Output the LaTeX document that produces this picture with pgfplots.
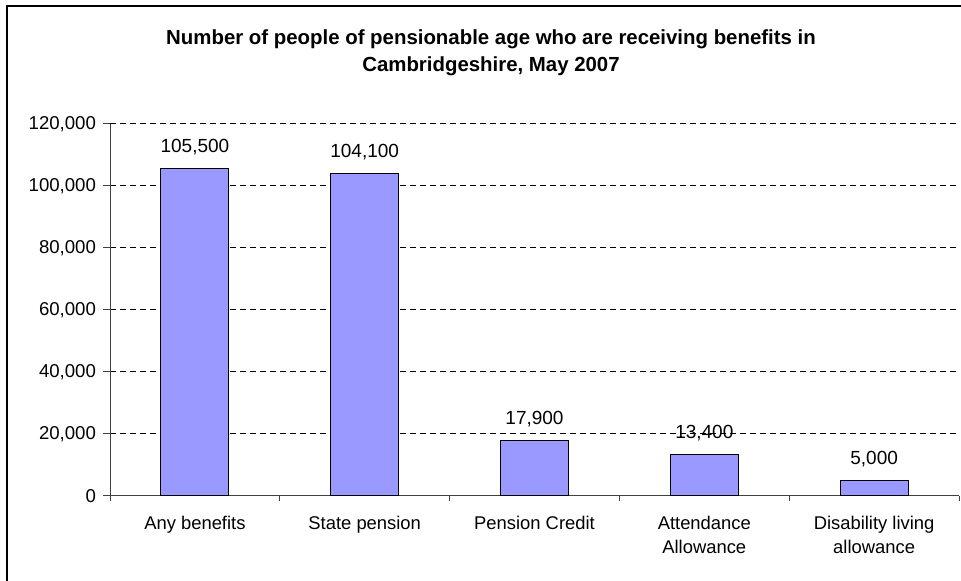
\documentclass[border=0pt]{standalone}
\usepackage{fontspec}
\setmainfont{Liberation Sans}
\usepackage{pgfplots}
\pgfplotsset{compat=1.18}
\definecolor{barfill}{RGB}{153,153,255}
\begin{document}
\begin{tikzpicture}
\useasboundingbox (0,0) rectangle (480.5pt,290.5pt);
\draw[line width=0.8pt] (3.5pt,-2pt) -- (3.5pt,287.5pt) -- (483pt,287.5pt);
\node[font=\bfseries\fontsize{10.2}{13.5}\selectfont, align=center] at (245.5pt,264pt)
  {Number of people of pensionable age who are receiving benefits in\\Cambridgeshire, May 2007};
\begin{axis}[
  at={(55pt,42.5pt)}, anchor=south west,
  scale only axis, width=424.5pt, height=186pt,
  xmin=-0.5, xmax=4.5, ymin=0, ymax=120000,
  axis lines=left,
  axis line style={-, black!75, line width=0.5pt},
  scaled y ticks=false,
  ytick={0,20000,40000,60000,80000,100000,120000},
  yticklabels={0,{20,000},{40,000},{60,000},{80,000},{100,000},{120,000}},
  ymajorgrids,
  major grid style={black, line width=0.5pt, dash pattern=on 3pt off 2pt},
  tick align=outside,
  major tick length=3.5pt,
  tick style={black!75, line width=0.5pt},
  xtick={0,1,2,3,4},
  xticklabels={Any benefits, State pension, Pension Credit, Attendance\\Allowance, Disability living\\allowance},
  major x tick style={draw=none},
  minor xtick={-0.5,0.5,1.5,2.5,3.5,4.5},
  minor tick length=2.5pt,
  minor x tick style={black!75, line width=0.5pt},
  xticklabel style={align=center, anchor=north, font=\fontsize{9.2}{12}\selectfont, yshift=-3pt},
  yticklabel style={font=\fontsize{9.3}{12}\selectfont},
  ybar, bar width=34pt,
  point meta=explicit symbolic,
  nodes near coords,
  every node near coord/.append style={font=\fontsize{9.5}{12}\selectfont, anchor=base, yshift=8pt},
  clip=false,
]
\addplot[fill=barfill, draw=black, line width=0.5pt] coordinates {
  (0,105500) [{105,500}]
  (1,104100) [{104,100}]
  (2,17900) [{17,900}]
  (3,13400) [{13,400}]
  (4,5000) [{5,000}]
};
\end{axis}
\end{tikzpicture}
\end{document}
